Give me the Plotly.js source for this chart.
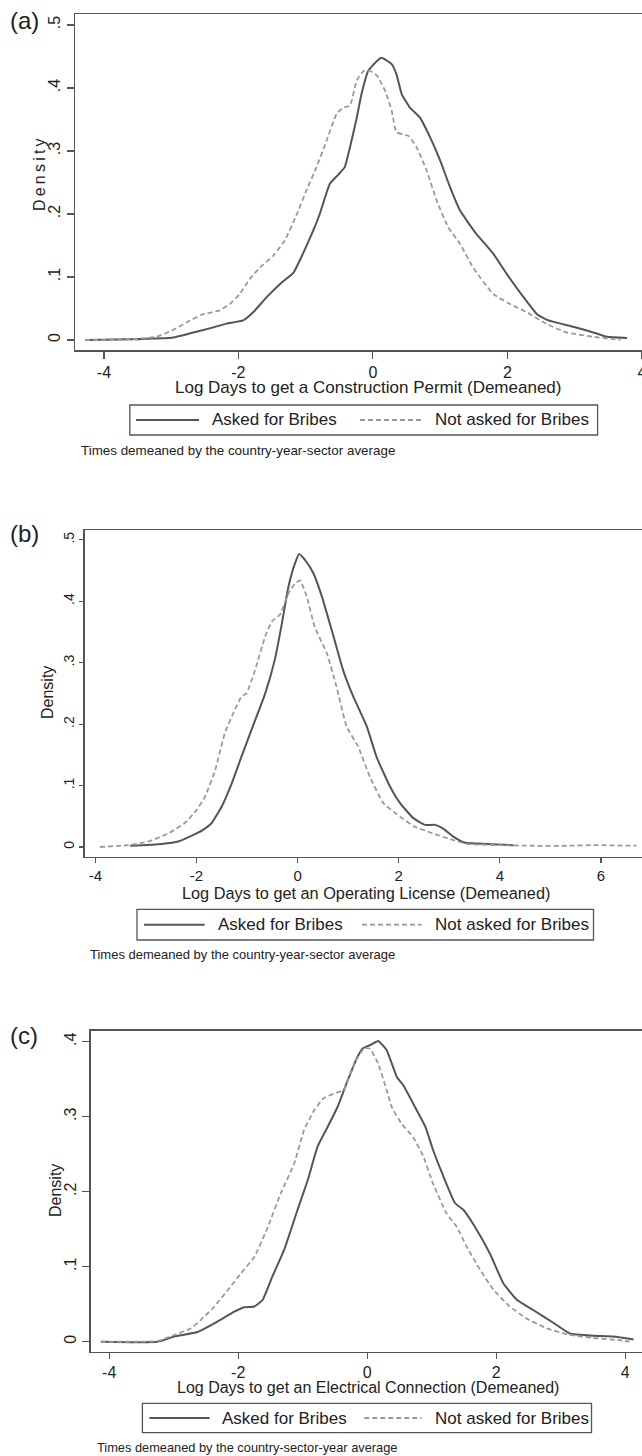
<!DOCTYPE html>
<html>
<head>
<meta charset="utf-8">
<script src="https://cdn.plot.ly/plotly-3.0.1.min.js"></script>
<style>
html,body{margin:0;padding:0;background:#fff;overflow:hidden;width:642px;height:1456px;}
#chart{width:700px;height:1456px;}
</style>
</head>
<body>
<div id="chart"></div>
<script>
// ---------- Data ----------
const seriesNames = ["Asked for Bribes", "Not asked for Bribes"];

// Panel (a): Construction permit
const aAskedX = [-4.28,-3.61,-2.97,-2.67,-2.37,-2.18,-1.93,-1.78,-1.58,-1.38,-1.18,-1.04,-0.89,-0.79,-0.64,-0.51,-0.42,-0.34,-0.24,-0.17,-0.07,0.06,0.13,0.28,0.35,0.43,0.55,0.70,0.85,1.00,1.15,1.30,1.52,1.79,1.99,2.24,2.44,2.59,2.98,3.28,3.48,3.78];
const aAskedY = [0.000,0.001,0.004,0.012,0.020,0.026,0.031,0.044,0.068,0.089,0.107,0.137,0.173,0.200,0.248,0.263,0.274,0.306,0.353,0.390,0.427,0.443,0.448,0.438,0.422,0.390,0.369,0.353,0.322,0.285,0.242,0.205,0.171,0.137,0.105,0.068,0.041,0.032,0.021,0.012,0.005,0.003];
const aNotX = [-4.28,-3.61,-3.22,-2.97,-2.77,-2.55,-2.28,-2.13,-1.98,-1.83,-1.68,-1.48,-1.31,-1.13,-0.99,-0.84,-0.69,-0.54,-0.44,-0.34,-0.24,-0.14,-0.04,0.06,0.18,0.28,0.35,0.53,0.65,0.80,0.95,1.12,1.30,1.49,1.79,2.04,2.29,2.59,2.88,3.28,3.68];
const aNotY = [0.000,0.001,0.005,0.016,0.028,0.040,0.047,0.057,0.073,0.097,0.115,0.134,0.158,0.200,0.237,0.274,0.316,0.359,0.369,0.372,0.412,0.427,0.427,0.420,0.396,0.364,0.330,0.324,0.306,0.269,0.221,0.179,0.152,0.115,0.073,0.057,0.044,0.025,0.012,0.005,0.000];

// Panel (b): Operating license
const bAskedX = [-3.31,-2.69,-2.36,-2.03,-1.87,-1.70,-1.50,-1.30,-1.11,-0.91,-0.64,-0.45,-0.31,-0.18,-0.05,0.03,0.15,0.31,0.48,0.71,0.90,1.10,1.37,1.56,1.83,2.03,2.29,2.52,2.72,2.88,3.08,3.31,3.74,4.27];
const bAskedY = [0.002,0.005,0.009,0.021,0.028,0.039,0.066,0.104,0.147,0.191,0.250,0.305,0.364,0.424,0.462,0.477,0.467,0.446,0.408,0.343,0.288,0.245,0.196,0.147,0.098,0.071,0.047,0.036,0.036,0.030,0.017,0.007,0.005,0.003];
const bNotX = [-3.91,-3.35,-2.95,-2.56,-2.23,-2.00,-1.83,-1.63,-1.44,-1.27,-1.11,-1.01,-0.84,-0.64,-0.51,-0.35,-0.18,-0.05,0.05,0.18,0.34,0.58,0.77,0.97,1.20,1.43,1.70,2.03,2.32,2.68,3.01,3.35,4.00,4.66,5.32,5.85,6.70];
const bNotY = [0.000,0.003,0.009,0.022,0.039,0.060,0.082,0.125,0.185,0.218,0.245,0.250,0.288,0.343,0.367,0.378,0.413,0.429,0.434,0.408,0.358,0.315,0.261,0.196,0.163,0.114,0.071,0.049,0.033,0.022,0.013,0.005,0.003,0.002,0.002,0.003,0.002];

// Panel (c): Electrical connection
const cAskedX = [-4.13,-3.25,-2.99,-2.63,-2.32,-2.06,-1.91,-1.75,-1.62,-1.47,-1.29,-1.08,-0.92,-0.77,-0.61,-0.46,-0.30,-0.15,-0.07,0.06,0.17,0.30,0.46,0.56,0.71,0.90,1.02,1.16,1.36,1.49,1.65,1.90,2.11,2.32,2.58,2.89,3.14,3.51,3.82,4.13];
const cAskedY = [0.000,0.000,0.007,0.013,0.027,0.040,0.046,0.047,0.056,0.087,0.122,0.176,0.216,0.260,0.287,0.313,0.349,0.380,0.391,0.396,0.401,0.389,0.353,0.342,0.318,0.287,0.256,0.225,0.185,0.176,0.156,0.118,0.078,0.056,0.042,0.025,0.011,0.008,0.007,0.003];
const cNotX = [-4.13,-3.25,-2.99,-2.73,-2.58,-2.37,-2.16,-1.96,-1.75,-1.54,-1.34,-1.13,-0.98,-0.82,-0.67,-0.48,-0.36,-0.20,-0.05,0.04,0.17,0.30,0.38,0.53,0.71,0.87,1.02,1.23,1.39,1.54,1.75,1.96,2.21,2.47,2.78,3.14,3.51,3.92,4.07];
const cNotY = [0.000,0.001,0.009,0.018,0.029,0.047,0.069,0.091,0.113,0.153,0.198,0.238,0.282,0.309,0.325,0.332,0.336,0.371,0.391,0.391,0.371,0.336,0.313,0.291,0.273,0.247,0.211,0.171,0.153,0.127,0.096,0.069,0.047,0.031,0.018,0.009,0.005,0.002,0.000];

// Tick labels
const xTicksA = [-4,-2,0,2,4];
const xTicksB = [-4,-2,0,2,4,6];
const xTicksC = [-4,-2,0,2,4];
const yTicksAB = [0,0.1,0.2,0.3,0.4,0.5];
const yTickTextAB = ["0",".1",".2",".3",".4",".5"];
const yTicksC = [0,0.1,0.2,0.3,0.4];
const yTickTextC = ["0",".1",".2",".3",".4"];

// Text
const panelLabels = ["(a)","(b)","(c)"];
const xTitles = ["Log Days to get a Construction Permit (Demeaned)",
                 "Log Days to get an Operating License (Demeaned)",
                 "Log Days to get an Electrical Connection (Demeaned)"];
const notes = ["Times demeaned by the country-year-sector average",
               "Times demeaned by the country-year-sector average",
               "Times demeaned by the country-sector-year average"];

// ---------- Layout helpers ----------
const W = 700, H = 1456;
const FONT = "Liberation Sans, Arial, Helvetica, sans-serif";
const fx = p => p / W;
const fy = p => 1 - p / H;
const SOLID = "#555555", DASH = "#9a9a9a", AXIS = "#555555", TXT = "#222222";

function line(x, y, xa, ya, k, name) {
  return {
    type: "scatter", mode: "lines", x: x, y: y, xaxis: xa, yaxis: ya,
    name: name, showlegend: false, hoverinfo: "skip",
    line: k === 0 ? {color: SOLID, width: 2, shape: "spline", smoothing: 0.4}
                  : {color: DASH, width: 1.8, dash: "5px,3px", shape: "spline", smoothing: 0.4}
  };
}

const traces = [
  line(aAskedX, aAskedY, "x", "y", 0, seriesNames[0]),
  line(aNotX, aNotY, "x", "y", 1, seriesNames[1]),
  line(bAskedX, bAskedY, "x2", "y2", 0, seriesNames[0]),
  line(bNotX, bNotY, "x2", "y2", 1, seriesNames[1]),
  line(cAskedX, cAskedY, "x3", "y3", 0, seriesNames[0]),
  line(cNotX, cNotY, "x3", "y3", 1, seriesNames[1])
];

function xax(l, r, range, ticks, anchor, fs, tl) {
  return {domain: [fx(l), fx(r)], range: range, anchor: anchor,
    tickmode: "array", tickvals: ticks, ticktext: ticks.map(String),
    showline: true, mirror: true, linecolor: AXIS, linewidth: 1.5,
    ticks: "outside", ticklen: tl, tickcolor: AXIS, tickwidth: 1.2,
    showgrid: false, zeroline: false, fixedrange: true,
    tickfont: {family: FONT, size: fs, color: TXT}};
}
function yax(t, b, range, ticks, text, anchor, fs, tl) {
  return {domain: [fy(b), fy(t)], range: range, anchor: anchor,
    tickmode: "array", tickvals: ticks, ticktext: text, tickangle: -90,
    showline: true, mirror: true, linecolor: AXIS, linewidth: 1.5,
    ticks: "outside", ticklen: tl, tickcolor: AXIS, tickwidth: 1.2,
    showgrid: false, zeroline: false, fixedrange: true,
    tickfont: {family: FONT, size: fs, color: TXT}};
}

// Panel geometry (pixels)
const P = [
  {l: 75,   r: 660, t: 14,     b: 350,    xr: [-4.43, 4.27],  yr: [-0.0159, 0.5175],
   lab: 21,   dens: {x: 39, y: 175, s: 16, spaced: true},
   xt: 388, xts: 17, leg: {l: 129.8, r: 597.6, t: 405, b: 435, s1: [136, 199], t1: 209.6, s2: [360, 421.6], t2: 433},
   note: {x: 78.6, y: 450.7, s: 13.4}},
  {l: 84.7, r: 647, t: 530,    b: 856.7,  xr: [-4.21, 6.91],  yr: [-0.0158, 0.516],
   lab: 533,  dens: {x: 47, y: 693, s: 16, spaced: false},
   xt: 892.5, xts: 16.3, leg: {l: 137, r: 593.5, t: 909.3, b: 940, s1: [144, 204.7], t1: 215.7, s2: [362, 421.6], t2: 433},
   note: {x: 88, y: 954.3, s: 13.0}},
  {l: 90.9, r: 645, t: 1030.7, b: 1351.7, xr: [-4.284, 4.307], yr: [-0.0133, 0.4147],
   lab: 1035, dens: {x: 55, y: 1191, s: 16, spaced: false},
   xt: 1387.5, xts: 16, leg: {l: 142.4, r: 591.5, t: 1403.3, b: 1432.7, s1: [149.4, 209.6], t1: 219.8, s2: [364.3, 421.6], t2: 433},
   note: {x: 95, y: 1447.7, s: 12.8}}
];

const layout = {
  width: W, height: H, margin: {l: 0, r: 0, t: 0, b: 0},
  paper_bgcolor: "#ffffff", plot_bgcolor: "#ffffff", showlegend: false,
  font: {family: FONT, color: TXT},
  xaxis:  xax(P[0].l, P[0].r, P[0].xr, xTicksA, "y", 16, 7),
  yaxis:  yax(P[0].t, P[0].b, P[0].yr, yTicksAB, yTickTextAB, "x", 16, 7),
  xaxis2: xax(P[1].l, P[1].r, P[1].xr, xTicksB, "y2", 15, 5),
  yaxis2: yax(P[1].t, P[1].b, P[1].yr, yTicksAB, yTickTextAB, "x2", 14, 4),
  xaxis3: xax(P[2].l, P[2].r, P[2].xr, xTicksC, "y3", 16, 6),
  yaxis3: yax(P[2].t, P[2].b, P[2].yr, yTicksC, yTickTextC, "x3", 16, 7),
  annotations: [], shapes: []
};

P.forEach((p, i) => {
  const A = layout.annotations, S = layout.shapes;
  const ann = (x, y, text, size, xanchor, extra) => A.push(Object.assign({
    xref: "paper", yref: "paper", x: fx(x), y: fy(y), text: text, showarrow: false,
    xanchor: xanchor, yanchor: "middle", font: {family: FONT, size: size, color: TXT}
  }, extra || {}));
  // panel label
  ann(24, p.lab, panelLabels[i], 24, "center");
  // y title
  const dtxt = p.dens.spaced ? "D\u2009e\u2009n\u2009s\u2009i\u2009t\u2009y" : "Density";
  ann(p.dens.x, p.dens.y, dtxt, p.dens.s, "center", {textangle: -90});
  // x title
  ann((p.l + p.r) / 2, p.xt, xTitles[i], p.xts, "center");
  // legend box
  const L = p.leg, cy = (L.t + L.b) / 2;
  S.push({type: "rect", xref: "paper", yref: "paper", x0: fx(L.l), x1: fx(L.r), y0: fy(L.b), y1: fy(L.t),
          line: {color: AXIS, width: 1.3}, fillcolor: "rgba(0,0,0,0)"});
  S.push({type: "line", xref: "paper", yref: "paper", x0: fx(L.s1[0]), x1: fx(L.s1[1]), y0: fy(cy), y1: fy(cy),
          line: {color: SOLID, width: 2}});
  S.push({type: "line", xref: "paper", yref: "paper", x0: fx(L.s2[0]), x1: fx(L.s2[1]), y0: fy(cy), y1: fy(cy),
          line: {color: DASH, width: 1.8, dash: "5px,3px"}});
  ann(L.t1, cy, seriesNames[0], 17, "left");
  ann(L.t2, cy, seriesNames[1], 17, "left");
  // note
  ann(p.note.x, p.note.y, notes[i], p.note.s, "left");
});

Plotly.newPlot("chart", traces, layout, {staticPlot: true, displayModeBar: false});
</script>
</body>
</html>
